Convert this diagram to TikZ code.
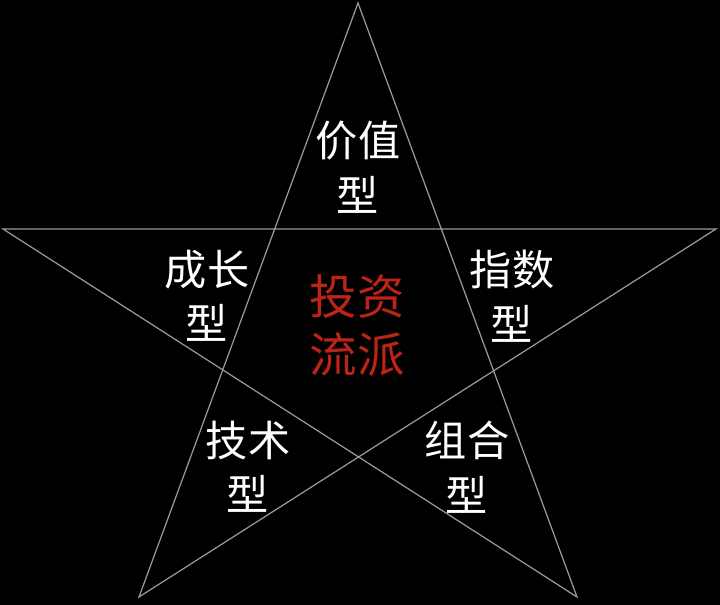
\documentclass[tikz,border=0pt]{standalone}
\usepackage{fontspec}
\newfontfamily\cjk{Noto Sans CJK SC}
\usepackage{xcolor}
\definecolor{pairred}{HTML}{BC2418}

\begin{document}
\begin{tikzpicture}[line cap=round,
  school/.style={text=white,align=center,font=\cjk\fontsize{24}{31}\selectfont},
  core/.style={text=pairred,align=center,font=\cjk\fontsize{27}{33}\selectfont}]
\fill[black] (0,0) rectangle (14.4,12.1);
\useasboundingbox (0,0) rectangle (14.4,12.1);
% star points
\coordinate (top) at (7.16,12.04);
\coordinate (lft) at (0.06,7.52);
\coordinate (rgt) at (14.32,7.52);
\coordinate (bl) at (2.78,0.16);
\coordinate (br) at (11.54,0.16);
\draw[gray!80,line width=0.7pt,line join=miter] (top) -- (bl) -- (rgt) -- (lft) -- (br) -- cycle;
% labels
\node[school] (value) at (7.16,8.76) {价值\\型};
\node[school] (growth) at (4.14,6.18) {成长\\型};
\node[school] (index) at (10.24,6.18) {指数\\型};
\node[school] (tech) at (4.96,2.76) {技术\\型};
\node[school] (combo) at (9.34,2.76) {组合\\型};
\node[core] (invest) at (7.14,5.58) {投资\\流派};
\end{tikzpicture}
\end{document}
